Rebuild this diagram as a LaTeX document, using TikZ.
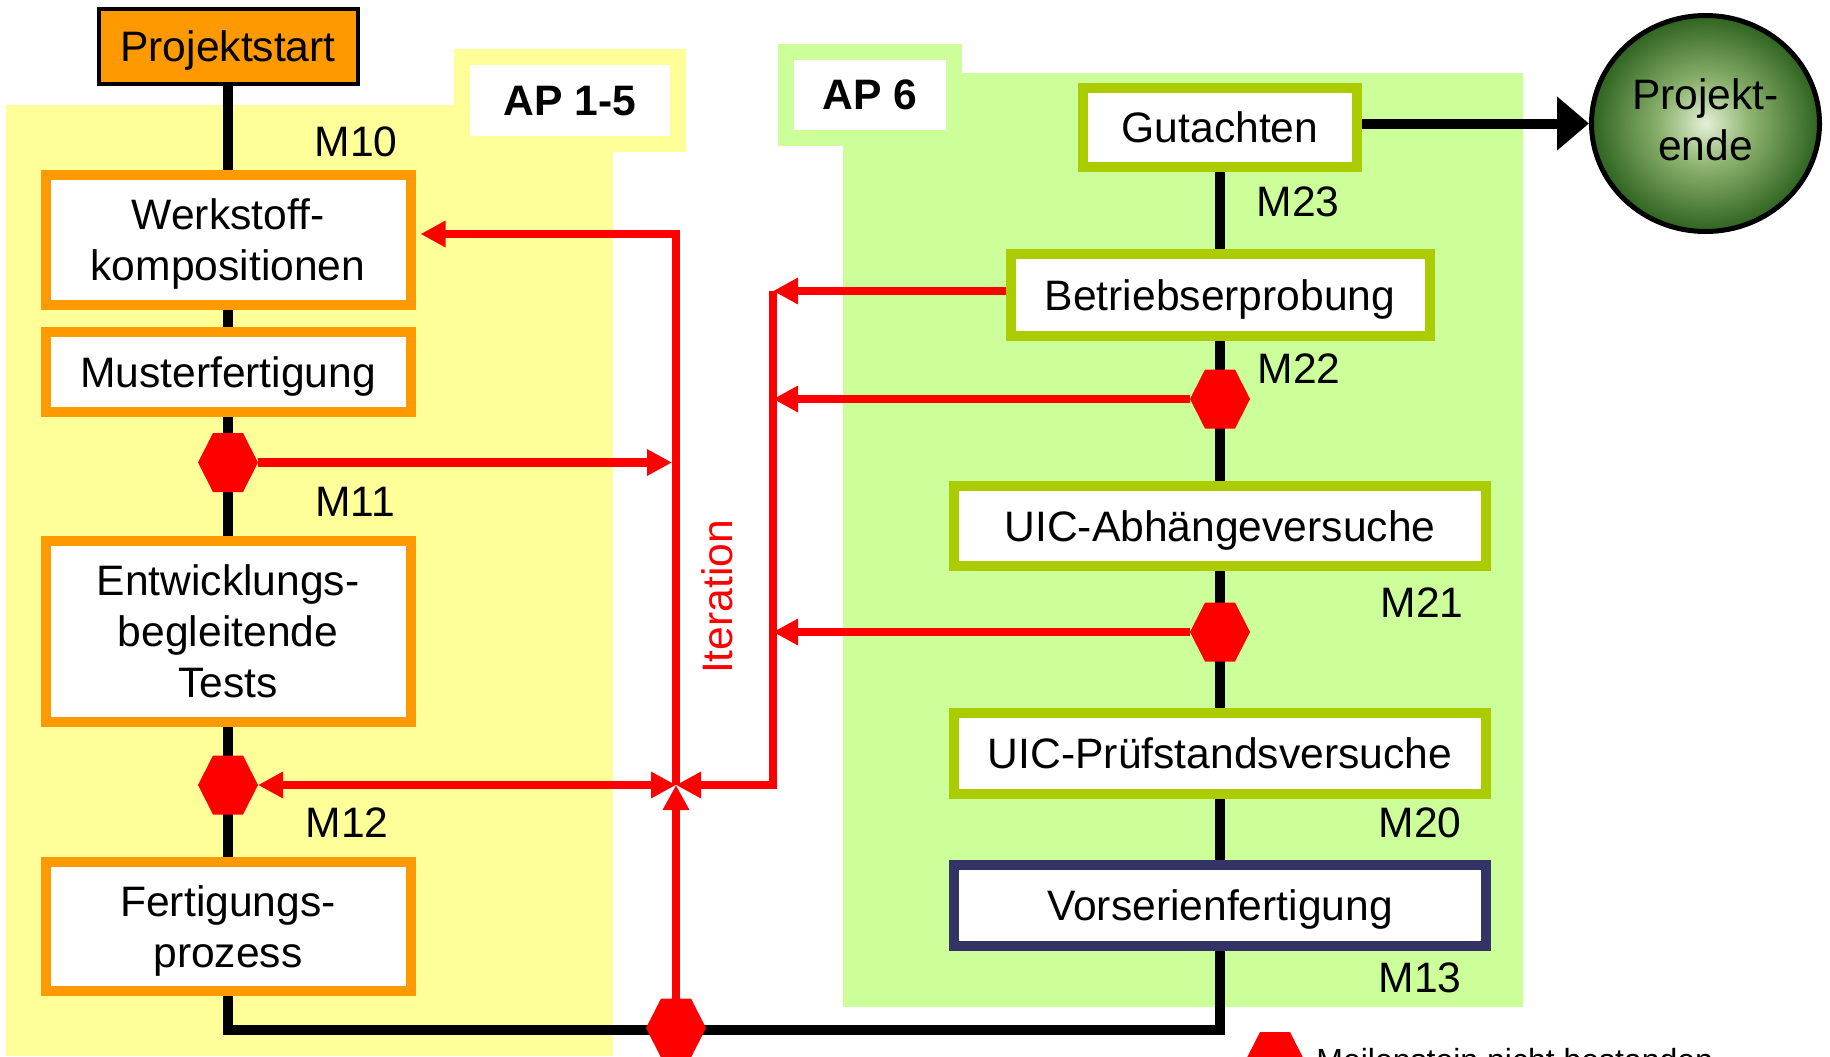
\documentclass[tikz,border=0pt]{standalone}
\usepackage{fontspec}
\setmainfont{Liberation Sans}
\usetikzlibrary{arrows.meta,shapes.geometric}
\definecolor{yelBG}{HTML}{FFFF99}
\definecolor{grnBG}{HTML}{CCFF99}
\definecolor{grnB}{HTML}{AACC00}
\definecolor{orgB}{HTML}{FF9900}
\definecolor{navB}{HTML}{333366}
\definecolor{redC}{HTML}{FF0000}
\definecolor{peIn}{HTML}{E4F0D8}
\definecolor{peMid}{HTML}{8CB26E}
\definecolor{peOut}{HTML}{2F6320}
\pgfdeclareradialshading{peshade}{\pgfpoint{0bp}{0bp}}{color(0bp)=(peIn); color(10bp)=(peMid); color(25bp)=(peOut); color(50bp)=(peOut)}
\newcommand\diafont{\fontsize{21.3}{25.5}\selectfont}
\begin{document}
\begin{tikzpicture}[x=0.5pt,y=-0.5pt,
  every node/.style={font=\diafont, inner sep=0pt},
  obox/.style={draw=orgB, line width=5pt, fill=white, align=center, minimum width=182.5pt, text depth=0pt},
  gbox/.style={draw=grnB, line width=5pt, fill=white, align=center, text depth=0pt},
  spine/.style={line width=5pt, draw=black},
  redline/.style={draw=redC, line width=4.25pt},
  rarr/.style={redline, -{Triangle[length=12.5pt,width=12.5pt]}},
  hexa/.pic={
    \fill[redC] (-30,0) -- (-15,-29.5) -- (15,-29.5) -- (30,0) -- (15,29.5) -- (-15,29.5) -- cycle;
    \coordinate (-w) at (-30,0);
    \coordinate (-e) at (30,0);
    \coordinate (-c) at (0,0);
  }
]
% canvas
\fill[white] (0,0) rectangle (1830,1056);
\useasboundingbox (0,0) rectangle (1830,1056);
% backgrounds
\fill[yelBG] (6,105) rectangle (613,1056);
\fill[yelBG] (454,49) rectangle (686,152);
\fill[grnBG] (843,73) rectangle (1523,1007);
\fill[grnBG] (778,44) rectangle (962,146);
\node[fill=white, minimum width=100pt, minimum height=35.5pt, text depth=0pt, font=\diafont\bfseries] (ap15) at (570,100.5) {AP 1-5};
\node[fill=white, minimum width=76pt, minimum height=35pt, text depth=0pt, font=\diafont\bfseries] (ap6) at (870,95) {AP 6};

% boxes
\node[draw=black, line width=2pt, fill=orgB, minimum width=129.5pt, minimum height=37.5pt, text depth=0pt] (PS) at (228,46.5) {Projektstart};
\node[obox, minimum height=65pt] (Werk) at (228,240) {Werkstoff-\\kompositionen};
\node[obox, minimum height=40pt] (Must) at (228,372) {Musterfertigung};
\node[obox, minimum height=90.5pt] (Entw) at (228,631.5) {Entwicklungs-\\begleitende\\Tests};
\node[obox, minimum height=64.5pt] (Fert) at (228,926.5) {Fertigungs-\\prozess};
\node[gbox, minimum width=137pt, minimum height=39.5pt] (Gut) at (1220,127.5) {Gutachten};
\node[gbox, minimum width=209.5pt, minimum height=41pt] (Betr) at (1220,295) {Betriebserprobung};
\node[gbox, minimum width=266pt, minimum height=40pt] (UA) at (1220,526) {UIC-Abhängeversuche};
\node[gbox, minimum width=266pt, minimum height=40.5pt] (UP) at (1220,753.5) {UIC-Prüfstandsversuche};
\node[gbox, draw=navB, minimum width=266pt, minimum height=40.5pt] (Vor) at (1220,905.5) {Vorserienfertigung};
\node[ellipse, draw=black, line width=2.5pt, shading=peshade, minimum width=114pt, minimum height=108pt, align=center, text depth=3.5pt] (PE) at (1705.5,123.5) {Projekt-\\ende};

% milestone labels
\node (m10) at (356,142) {M10};
\node (m11) at (355,502) {M11};
\node (m12) at (347,823) {M12};
\node (m23) at (1298,202) {M23};
\node (m22) at (1299,369) {M22};
\node (m21) at (1422,603) {M21};
\node (m20) at (1420,823) {M20};
\node (m13) at (1420,978) {M13};
\node[text=redC, rotate=90] (iter) at (717,597) {Iteration};

% helper coordinates
\coordinate (jn) at (676,785);
\coordinate (rtop) at (773,291);
\coordinate (bl) at (228,1029.5);

% black spines
\draw[spine] (PS.south) -- (Werk.north);
\draw[spine] (Werk.south) -- (Must.north);
\draw[spine] (Must.south) -- (Entw.north);
\draw[spine] (Entw.south) -- (Fert.north);
\draw[spine] (Fert.south) -- (bl) -| (Vor.south);
\draw[spine] (Gut.south) -- (Betr.north);
\draw[spine] (Betr.south) -- (UA.north);
\draw[spine] (UA.south) -- (UP.north);
\draw[spine] (UP.south) -- (Vor.north);
\draw[line width=5pt, -{Triangle[length=16pt,width=26pt]}] (Gut.east |- PE.west) -- (PE.west);

% milestones (hexagons)
\pic (h11) at (228,462.5) {hexa};
\pic (h12) at (228,785) {hexa};
\pic (hb) at (676,1028) {hexa};
\pic (h22) at (1220,399) {hexa};
\pic (h21) at (1220,632) {hexa};

% red iteration connectors
\draw[rarr] (Betr.west |- rtop) -- (rtop);
\draw[rarr] (rtop) |- (jn);
\draw[rarr] (h22-w) -- (h22-w -| rtop);
\draw[rarr] (h21-w) -- (h21-w -| rtop);
\draw[rarr, shorten >=2pt] (h11-e) -- (h11-e -| jn);
\draw[redline, {Triangle[length=12.5pt,width=12.5pt]}-{Triangle[length=12.5pt,width=12.5pt]}] (h12-e) -- (jn);
\draw[rarr] (hb-c) -- (jn);
\draw[rarr] (jn) |- ([xshift=2.5pt,yshift=3pt]Werk.east);

% legend
\pic (hleg) at (1275,1061.5) {hexa};
\node[anchor=north west, font=\fontsize{16}{19}\selectfont] (leg) at (1316,1048) {Meilenstein nicht bestanden};
\end{tikzpicture}
\end{document}
